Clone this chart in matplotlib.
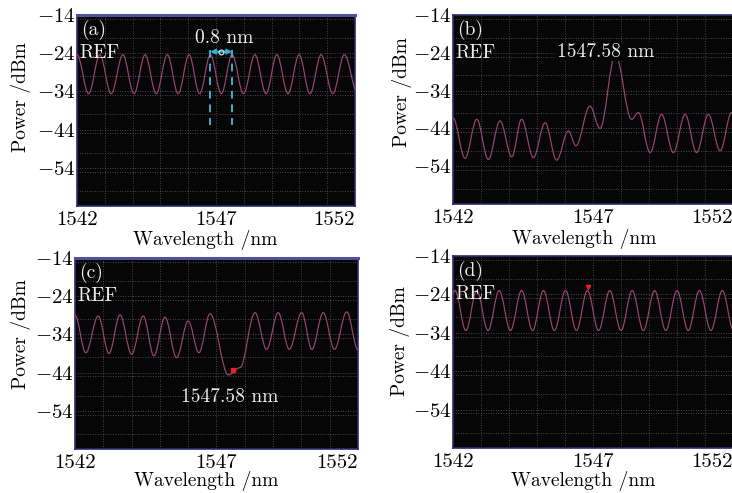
import matplotlib.pyplot as plt
from matplotlib.path import Path
from matplotlib.patches import PathPatch
from matplotlib.ticker import MultipleLocator

plt.rcParams['font.family'] = ['cmr10', 'DejaVu Serif']
plt.rcParams['mathtext.fontset'] = 'cm'

# spectra: alternating peaks / troughs (nm, dBm)
a_wl = [1542.00, 1542.42, 1542.82, 1543.23, 1543.65, 1544.05, 1544.45, 1544.85, 1545.25,
        1545.64, 1546.03, 1546.41, 1546.80, 1547.19, 1547.58, 1547.99, 1548.40, 1548.80,
        1549.19, 1549.59, 1549.99, 1550.38, 1550.78, 1551.20, 1551.62, 1552.10]
a_pw = [-24.4, -34.6, -24.4, -34.6, -24.4, -34.6, -24.4, -34.6, -24.4,
        -34.6, -24.4, -34.6, -24.4, -34.6, -24.4, -34.6, -24.4, -34.6,
        -24.4, -34.6, -24.4, -34.6, -24.4, -34.6, -24.4, -34.6]

b_wl = [1542.00, 1542.43, 1542.85, 1543.26, 1543.68, 1544.10, 1544.45, 1544.87, 1545.29,
        1545.70, 1546.12, 1546.39, 1546.89, 1547.25, 1547.80, 1548.38, 1548.62, 1549.04,
        1549.45, 1549.87, 1550.29, 1550.70, 1551.12, 1551.54, 1551.95, 1552.30]
b_pw = [-41.2, -51.9, -41.6, -52.2, -42.0, -51.5, -41.6, -51.7, -42.5,
        -52.4, -44.7, -48.6, -38.1, -44.0, -24.5, -41.6, -39.8, -50.4,
        -40.3, -50.4, -40.3, -50.4, -40.3, -49.9, -39.8, -50.0]

c_wl = [1542.00, 1542.38, 1542.82, 1543.20, 1543.59, 1544.00, 1544.41, 1544.79, 1545.18,
        1545.59, 1546.00, 1546.38, 1546.77, 1547.42, 1547.83, 1548.36, 1548.77, 1549.18,
        1549.57, 1550.01, 1550.37, 1550.77, 1551.17, 1551.60, 1552.00]
c_pw = [-29.0, -38.8, -29.2, -39.0, -28.9, -39.2, -29.2, -39.6, -29.5,
        -40.1, -30.5, -38.8, -28.6, -44.6, -42.7, -28.3, -37.9, -28.3,
        -37.9, -28.3, -37.9, -28.3, -37.9, -28.1, -38.0]

d_wl = [1541.67, 1542.07, 1542.46, 1542.85, 1543.25, 1543.65, 1544.05, 1544.45, 1544.84,
        1545.23, 1545.62, 1546.02, 1546.41, 1546.80, 1547.20, 1547.60, 1548.00, 1548.40,
        1548.80, 1549.20, 1549.60, 1550.00, 1550.40, 1550.80, 1551.21, 1551.62, 1552.02]
d_pw = [-33.4, -23.0, -33.4, -23.0, -33.4, -23.0, -33.4, -23.0, -33.4,
        -23.0, -33.4, -23.0, -33.4, -23.0, -33.4, -23.0, -33.4, -23.0,
        -33.4, -23.0, -33.4, -23.0, -33.4, -23.0, -33.4, -23.0, -33.4]

spacing_lines = [1546.79, 1547.58]
c_marker = (1547.59, -43.2)
d_marker = (1546.81, -22.0)

x_ticks = [1542, 1547, 1552]
y_ticks = [-14, -24, -34, -44, -54]

W, H = 732, 493
TRACE = '#9a4576'
CYAN = '#3aaed0'

fig = plt.figure(figsize=(W / 100, H / 100), dpi=100)


def rect(x0, y0, x1, y1):
    return [x0 / W, 1 - y1 / H, (x1 - x0) / W, (y1 - y0) / H]


def ftext(x, y, s, va='center', **kw):
    fig.text(x / W, 1 - y / H, s, ha='center', va=va, fontsize=14, **kw)


def trace(ax, wl, pw):
    # smooth curve through the extrema, horizontal tangent at each one
    verts = [(wl[0], pw[0])]
    codes = [Path.MOVETO]
    for i in range(1, len(wl)):
        x0, y0, x1, y1 = wl[i - 1], pw[i - 1], wl[i], pw[i]
        d = 0.36 * (x1 - x0)
        verts += [(x0 + d, y0), (x1 - d, y1), (x1, y1)]
        codes += [Path.CURVE4] * 3
    ax.add_patch(PathPatch(Path(verts, codes), fill=False, edgecolor=TRACE,
                           lw=0.85, zorder=3))


# xlabel positions are baselines
panels = [
    ('a', (77, 15, 355, 206), a_wl, a_pw, (21, 97), (205, 245), True),
    ('b', (453, 15, 733, 204), b_wl, b_pw, (402, 92), (584, 244), False),
    ('c', (75, 258, 358, 449), c_wl, c_pw, (21, 334), (206, 486), True),
    ('d', (453, 256, 733, 448), d_wl, d_pw, (400, 341), (583, 486), False),
]

axes = {}
for name, box, wl, pw, ylab, xlab, bar in panels:
    ax = fig.add_axes(rect(*box))
    axes[name] = ax
    ax.set_facecolor('#060606')
    trace(ax, wl, pw)
    ax.set_xlim(1542, 1552)
    ax.set_ylim(-64, -14)
    ax.set_xticks(x_ticks)
    ax.set_xticklabels([str(t) for t in x_ticks])
    ax.get_xticklabels()[-1].set_horizontalalignment('right')
    ax.set_yticks(y_ticks)
    ax.set_yticklabels(['$-%d$' % -t for t in y_ticks])
    ax.xaxis.set_minor_locator(MultipleLocator(1))
    ax.yaxis.set_minor_locator(MultipleLocator(5))
    ax.tick_params(which='both', length=0, labelsize=15)
    ax.tick_params(axis='x', pad=4)
    ax.tick_params(axis='y', pad=1)
    ax.grid(which='both', color='#5c5c5c', lw=0.6, ls=(0, (1, 2)))
    for s in ax.spines.values():
        s.set_color('#2b2b6b')
        s.set_linewidth(1.2)
    if bar:
        ax.spines['top'].set_color('#52529a')
        ax.spines['top'].set_linewidth(2.2)
    ytr = ax.get_yaxis_transform()
    ax.text(0.015, -18, '(%s)' % name, transform=ytr, color='#eeeeee',
            fontsize=14, va='center', ha='left')
    ax.text(0.01, -24, 'REF', transform=ytr, color='#eeeeee',
            fontsize=14, va='center', ha='left')
    ftext(*ylab, 'Power /dBm', rotation=90)
    ftext(*xlab, 'Wavelength /nm', va='baseline')

# (a) 0.8 nm channel spacing
ax = axes['a']
for x in spacing_lines:
    ax.plot([x, x], [-23.2, -42.8], color=CYAN, lw=1.4, ls=(0, (4, 3)), zorder=4)
ax.annotate('', xy=(spacing_lines[0], -23.6), xytext=(spacing_lines[1], -23.6),
            arrowprops=dict(arrowstyle='<|-|>', color=CYAN, lw=1.4,
                            mutation_scale=7, shrinkA=0, shrinkB=0), zorder=4)
ax.plot([sum(spacing_lines) / 2], [-23.6], 'o', ms=3.5, mfc='none', mec='#cfefff',
        mew=0.8, zorder=5)
ax.text(1547.29, -20.0, '0.8 nm', color='#eeeeee', fontsize=14, ha='center',
        va='center', zorder=6)

# (b) peak label
axes['b'].text(1547.46, -23.7, '1547.58 nm', color='#eeeeee', fontsize=14,
               ha='center', va='center', zorder=6,
               bbox=dict(facecolor='#060606', edgecolor='none', pad=0.5))

# (c) dip label and marker
axes['c'].plot(*c_marker, 's', ms=2.5, color='#e82020', zorder=5)
axes['c'].text(1547.48, -50.5, '1547.58 nm', color='#eeeeee', fontsize=14,
               ha='center', va='center', zorder=6)

# (d) marker
axes['d'].plot(*d_marker, 'v', ms=3, color='#e82020', zorder=5)

fig.savefig('out.png', dpi=100)
